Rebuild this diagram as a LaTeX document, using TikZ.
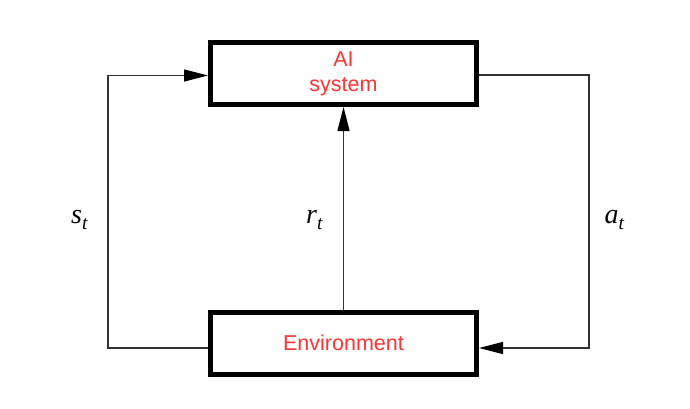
\documentclass[tikz,border=0pt]{standalone}
\usepackage{fontspec}
\setmainfont{Liberation Sans}
\newfontfamily\tnr{Liberation Serif}
\usetikzlibrary{arrows.meta}
\definecolor{lblred}{RGB}{255,51,51}
\definecolor{linegray}{RGB}{50,50,50}
\tikzset{
  blockbox/.style={draw=black, line width=5pt, minimum width=266pt, minimum height=62pt,
    inner sep=0pt, text=lblred, align=center, font=\fontsize{21.5}{25}\selectfont},
  conn/.style={draw=linegray, line width=1.2pt},
  tip/.style={-{Triangle[length=24pt,width=12pt,color=black]}},
  mlabel/.style={anchor=base west, inner sep=0pt, font=\fontsize{28}{30}\selectfont\tnr\itshape}
}
\newcommand{\subt}{\raisebox{-6pt}{\fontsize{19.5}{20}\selectfont\tnr\itshape t}}
\begin{document}
\begin{tikzpicture}[x=1pt,y=-1pt]
\useasboundingbox (0,0) rectangle (690,408);
\node[blockbox] (ai) at (343.5,73.5) {AI\\system};
\node[blockbox] (env) at (343.5,343) {Environment};
\coordinate (lx) at (108,200);
\coordinate (rx) at (589,200);
\draw[conn,tip] ([yshift=-5pt]env.west) -| (lx) |- ([yshift=-2pt]ai.west);
\draw[conn,tip] ([yshift=-1.5pt]ai.east) -| (rx) |- ([yshift=-5pt]env.east);
\draw[conn,tip] (env.north) -- (ai.south);
\node[mlabel] (st) at (71,223) {s\subt};
\node[mlabel] (rt) at (306,223) {r\subt};
\node[mlabel] (at) at (604.5,223) {a\subt};
\end{tikzpicture}
\end{document}
